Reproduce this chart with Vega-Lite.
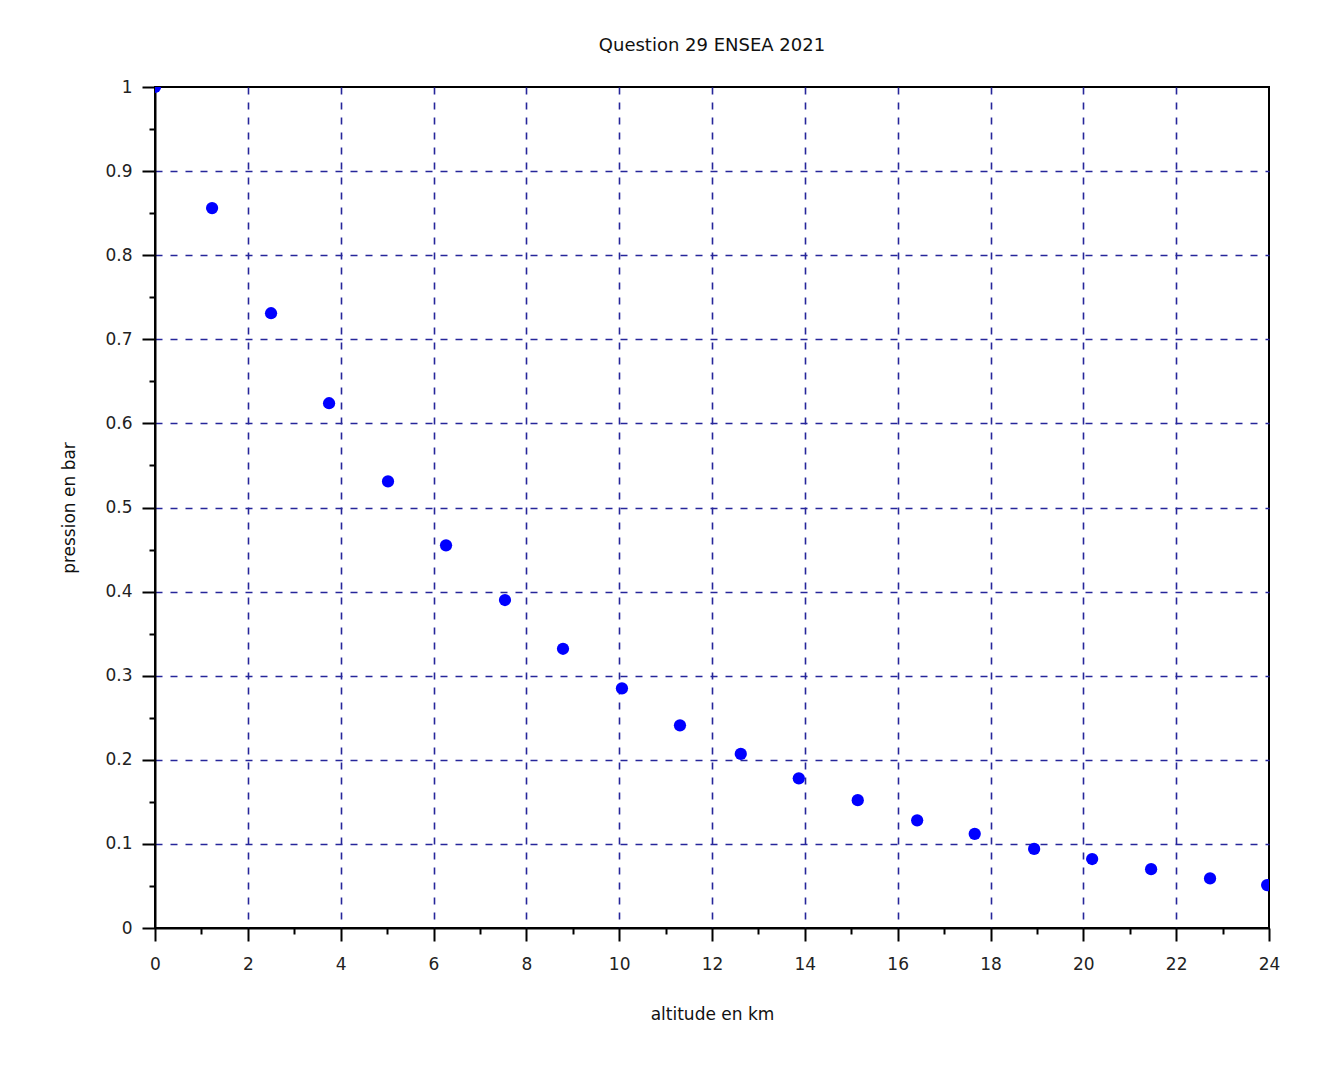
{
  "$schema": "https://vega.github.io/schema/vega-lite/v6.json",
  "width": 1114,
  "height": 841,
  "autosize": "none",
  "padding": {"left": 155, "top": 87, "right": 58, "bottom": 140},
  "background": "white",
  "title": {
    "text": "Question 29 ENSEA 2021",
    "font": "DejaVu Sans",
    "fontSize": 18,
    "fontWeight": "normal",
    "color": "#111111",
    "anchor": "middle",
    "offset": 23
  },
  "data": {
    "values": [
      {"altitude": 0, "pression": 1.0},
      {"altitude": 1.23, "pression": 0.856},
      {"altitude": 2.5, "pression": 0.731},
      {"altitude": 3.75, "pression": 0.624},
      {"altitude": 5.02, "pression": 0.531},
      {"altitude": 6.27, "pression": 0.455},
      {"altitude": 7.54, "pression": 0.39},
      {"altitude": 8.79, "pression": 0.332},
      {"altitude": 10.06, "pression": 0.285},
      {"altitude": 11.31, "pression": 0.241},
      {"altitude": 12.62, "pression": 0.207},
      {"altitude": 13.87, "pression": 0.178},
      {"altitude": 15.14, "pression": 0.152},
      {"altitude": 16.42, "pression": 0.128},
      {"altitude": 17.66, "pression": 0.112},
      {"altitude": 18.94, "pression": 0.094},
      {"altitude": 20.19, "pression": 0.082},
      {"altitude": 21.46, "pression": 0.07},
      {"altitude": 22.73, "pression": 0.059},
      {"altitude": 23.96, "pression": 0.051}
    ]
  },
  "mark": {"type": "point", "filled": true, "size": 150, "color": "#0000ff", "opacity": 1, "clip": true},
  "encoding": {
    "x": {
      "field": "altitude",
      "type": "quantitative",
      "scale": {"domain": [0, 24], "nice": false, "zero": false},
      "axis": {
        "title": "altitude en km",
        "values": [0,1,2,3,4,5,6,7,8,9,10,11,12,13,14,15,16,17,18,19,20,21,22,23,24],
        "labelExpr": "datum.value % 2 === 0 ? datum.label : ''",
        "tickSize": {"condition": {"test": "datum.value % 2 === 0", "value": 13}, "value": 6},
        "gridOpacity": {"condition": {"test": "datum.value % 2 === 0 && datum.value > 0 && datum.value < 24", "value": 1}, "value": 0},
        "labelPadding": 15,
        "titlePadding": 34
      }
    },
    "y": {
      "field": "pression",
      "type": "quantitative",
      "scale": {"domain": [0, 1], "nice": false},
      "axis": {
        "title": "pression en bar",
        "values": [0,0.05,0.1,0.15,0.2,0.25,0.3,0.35,0.4,0.45,0.5,0.55,0.6,0.65,0.7,0.75,0.8,0.85,0.9,0.95,1],
        "labelExpr": "round(datum.value*20) % 2 === 0 ? (datum.value === 0 ? '0' : datum.value === 1 ? '1' : format(datum.value, '.1f')) : ''",
        "tickSize": {"condition": {"test": "round(datum.value*20) % 2 === 0", "value": 13}, "value": 6},
        "gridOpacity": {"condition": {"test": "round(datum.value*20) % 2 === 0 && datum.value > 0 && datum.value < 1", "value": 1}, "value": 0},
        "labelPadding": 10,
        "titlePadding": 26
      }
    }
  },
  "config": {
    "view": {"stroke": "#000000", "strokeWidth": 2},
    "axis": {
      "domainColor": "#000000",
      "domainWidth": 2,
      "tickColor": "#000000",
      "tickWidth": 2,
      "grid": true,
      "gridColor": "#26269a",
      "gridDash": [7, 8],
      "gridWidth": 1.6,
      "labelFont": "DejaVu Sans",
      "labelFontSize": 17,
      "labelColor": "#222222",
      "titleFont": "DejaVu Sans",
      "titleFontSize": 17,
      "titleFontWeight": "normal",
      "titleColor": "#111111",
      "labelFlush": false,
      "labelOverlap": false
    }
  }
}
